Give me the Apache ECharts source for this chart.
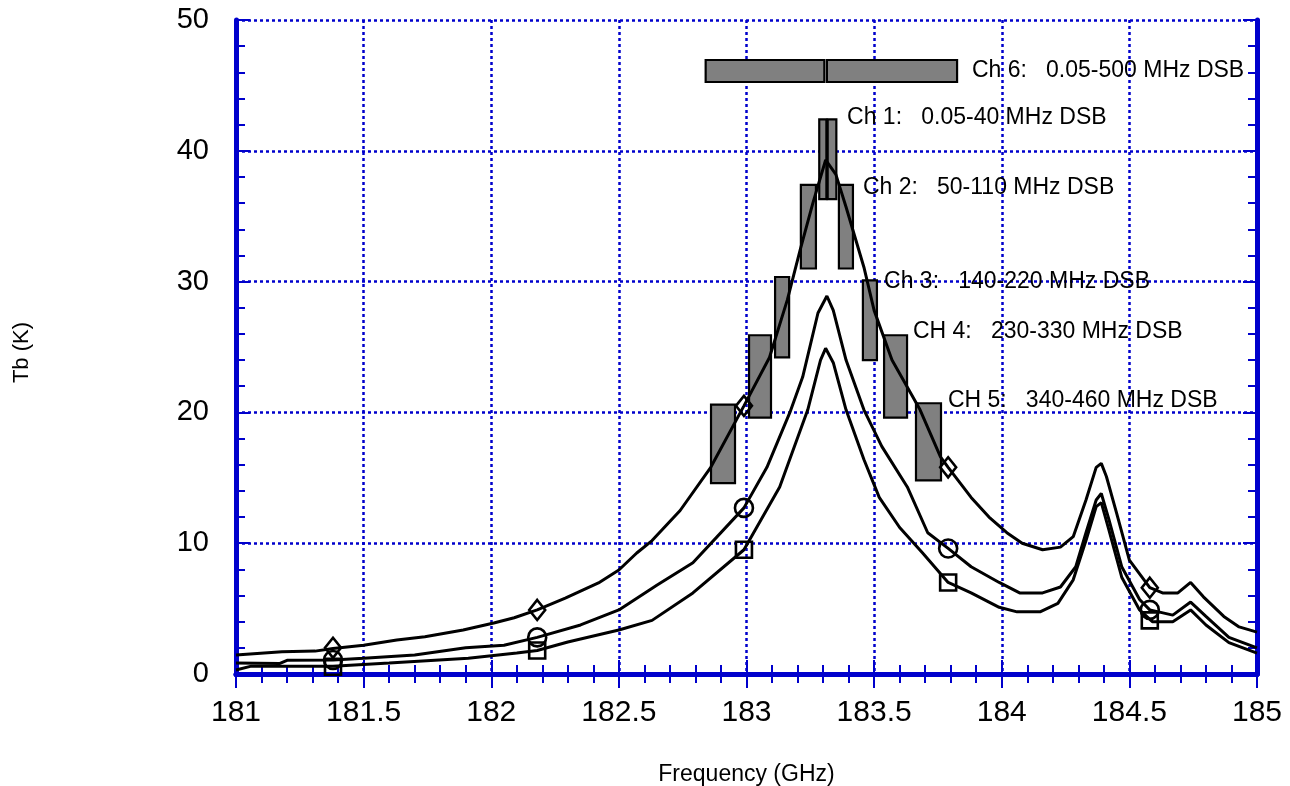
<!DOCTYPE html>
<html>
<head>
<meta charset="utf-8">
<script src="https://cdn.jsdelivr.net/npm/echarts@6/dist/echarts.min.js"></script>
<style>
	html,body{margin:0;padding:0;background:#fff;}
	#chart{width:1290px;height:786px;}
</style>
</head>
<body>
<div id="chart"></div>
<script>
// curve with diamonds (top)
const freqTop = [181.0,181.18,181.31,181.38,181.5,181.63,181.74,181.89,182.01,182.09,182.18,182.29,182.42,182.5,182.57,182.63,182.74,182.86,182.99,183.09,183.16,183.21,183.26,183.31,183.35,183.39,183.46,183.5,183.57,183.68,183.76,183.79,183.88,183.95,184.02,184.08,184.16,184.23,184.28,184.33,184.37,184.39,184.41,184.45,184.5,184.58,184.63,184.69,184.74,184.79,184.87,184.93,185.0]
const tbTop = [1.45,1.7,1.75,1.95,2.2,2.6,2.85,3.36,3.9,4.3,4.9,5.8,6.96,7.95,9.25,10.2,12.5,15.8,20.5,24.2,28.6,32.4,36.0,39.3,38.2,35.7,31.1,27.8,24.0,20.2,16.6,15.8,13.5,12.0,10.8,10.0,9.5,9.7,10.5,13.3,15.8,16.1,15.1,12.3,8.7,6.6,6.2,6.2,7.0,5.9,4.4,3.6,3.2]
// curve with circles (middle)
const freqMid = [181.0,181.17,181.2,181.38,181.5,181.7,181.9,182.05,182.18,182.35,182.5,182.65,182.79,182.99,183.08,183.17,183.22,183.28,183.315,183.34,183.39,183.46,183.53,183.63,183.71,183.79,183.88,183.99,184.07,184.16,184.23,184.29,184.33,184.37,184.39,184.42,184.47,184.54,184.58,184.67,184.74,184.8,184.89,185.0]
const tbMid = [0.84,0.8,1.05,1.07,1.2,1.45,2.0,2.2,2.8,3.75,4.9,6.8,8.5,12.7,15.8,20.0,22.7,27.6,28.9,27.8,24.0,20.2,17.4,14.3,10.8,9.6,8.2,7.0,6.2,6.2,6.65,8.2,10.8,13.3,13.8,11.8,8.2,5.7,4.9,4.5,5.5,4.4,2.8,2.0]
// curve with squares (bottom)
const freqLow = [181.0,181.06,181.38,181.6,181.91,182.1,182.18,182.3,182.5,182.63,182.79,182.99,183.13,183.24,183.29,183.31,183.34,183.39,183.46,183.52,183.6,183.69,183.79,183.88,183.99,184.06,184.15,184.22,184.28,184.33,184.37,184.39,184.42,184.47,184.54,184.59,184.67,184.74,184.8,184.89,185.0]
const tbLow = [0.3,0.6,0.6,0.84,1.2,1.6,1.8,2.45,3.36,4.1,6.2,9.5,14.3,20.2,24.0,24.9,23.8,20.2,16.4,13.5,11.2,9.25,7.0,6.2,5.1,4.75,4.75,5.4,7.2,10.2,12.8,13.1,11.0,7.4,4.9,4.0,4.0,4.9,3.75,2.4,1.6]

// marker points
const markFreq = [181.38,182.18,182.99,183.79,184.58]
const markTop = [2.0,4.9,20.5,15.8,6.6]
const markMid = [1.07,2.8,12.7,9.6,4.9]
const markLow = [0.55,1.8,9.5,7.0,4.1]

// channel boxes (two sidebands each): freq from/to, Tb bottom/top
const boxF0 = [182.84,183.315,183.285,183.318,183.213,183.362,183.112,183.456,183.01,183.539,182.861,183.664]
const boxF1 = [183.305,183.825,183.313,183.352,183.272,183.417,183.167,183.511,183.096,183.629,182.955,183.762]
const boxTb0 = [45.26,45.26,36.3,36.3,31.0,31.0,24.2,24.0,19.6,19.6,14.6,14.8]
const boxTb1 = [46.94,46.94,42.4,42.4,37.4,37.4,30.35,30.1,25.9,25.9,20.6,20.7]

// channel labels
const chNames = ["Ch 6:   0.05-500 MHz DSB","Ch 1:   0.05-40 MHz DSB","Ch 2:   50-110 MHz DSB","Ch 3:   140-220 MHz DSB","CH 4:   230-330 MHz DSB","CH 5:   340-460 MHz DSB"]
const chLabelF = [183.883,183.394,183.456,183.539,183.652,183.789]
const chLabelTb = [46.1,42.5,37.2,30.0,26.2,20.9]

const blue = "#0000cc"
const font = "'Liberation Sans', Arial, sans-serif"

const zip = (a,b) => a.map((v,i) => [v,b[i]])

const tickAxis = (extra) => Object.assign({
	type: "value",
	axisLine: {show: true, lineStyle: {color: blue, width: 5}},
	axisTick: {show: true, inside: true, length: 14, lineStyle: {color: blue, width: 2}},
	minorTick: {show: true, splitNumber: 5, length: 9, lineStyle: {color: blue, width: 2}},
	splitLine: {show: false},
	axisLabel: {show: false}
}, extra)

const gridLine = {show: true, lineStyle: {color: blue, width: 2.5, type: [3,3]}}

let option = {
	animation: false,
	backgroundColor: "#fff",
	grid: {left: 236, right: 33, top: 20, bottom: 112, containLabel: false, outerBoundsMode: "none"},
	graphic: [
		{
			type: "text", left: 11, top: 322, rotation: Math.PI/2,
			style: {text: "Tb (K)", fontSize: 22, fill: "#000", fontFamily: font}
		}
	],
	xAxis: [
		tickAxis({
			min: 181, max: 185, interval: 0.5,
			splitLine: gridLine,
			axisLabel: {show: true, fontSize: 30, color: "#000", fontFamily: font, margin: 24},
			name: "Frequency (GHz)", nameLocation: "middle", nameGap: 89,
			nameTextStyle: {fontSize: 23, color: "#000", fontFamily: font}
		}),
		tickAxis({min: 181, max: 185, interval: 0.5, position: "top"})
	],
	yAxis: [
		tickAxis({
			min: 0, max: 50, interval: 10,
			splitLine: gridLine,
			axisLabel: {show: true, fontSize: 29, color: "#000", fontFamily: font, margin: 27}
		}),
		tickAxis({min: 0, max: 50, interval: 10, position: "right"})
	],
	series: [
		{
			type: "custom",
			z: 2,
			encode: {x: [0,1], y: [2,3]},
			data: boxF0.map((f,i) => [f, boxF1[i], boxTb0[i], boxTb1[i]]),
			renderItem: (params, api) => {
				const p0 = api.coord([api.value(0), api.value(3)])
				const p1 = api.coord([api.value(1), api.value(2)])
				return {
					type: "rect",
					shape: {x: p0[0], y: p0[1], width: p1[0]-p0[0], height: p1[1]-p0[1]},
					style: {fill: "#808080", stroke: "#000", lineWidth: 2.2}
				}
			}
		},
		...[[freqTop,tbTop],[freqMid,tbMid],[freqLow,tbLow]].map(c => ({
			type: "line",
			z: 4,
			showSymbol: false,
			data: zip(c[0], c[1]),
			lineStyle: {color: "#000", width: 3}
		})),
		...[["diamond",markTop,[16,20]],["circle",markMid,18],["rect",markLow,16]].map(m => ({
			type: "scatter",
			z: 5,
			symbol: m[0],
			symbolSize: m[2],
			data: zip(markFreq, m[1]),
			itemStyle: {color: "rgba(0,0,0,0)", borderColor: "#000", borderWidth: 2.6, opacity: 1}
		})),
		{
			type: "scatter",
			z: 6,
			symbolSize: 0,
			itemStyle: {opacity: 1},
			data: chNames.map((n,i) => ({name: n, value: [chLabelF[i], chLabelTb[i]]})),
			label: {
				show: true, position: "right", distance: 0,
				formatter: p => p.name,
				fontSize: 23, color: "#000", fontFamily: font
			}
		}
	]
}

let myChart = echarts.init(document.getElementById("chart"))
myChart.setOption(option)
</script>
</body>
</html>
